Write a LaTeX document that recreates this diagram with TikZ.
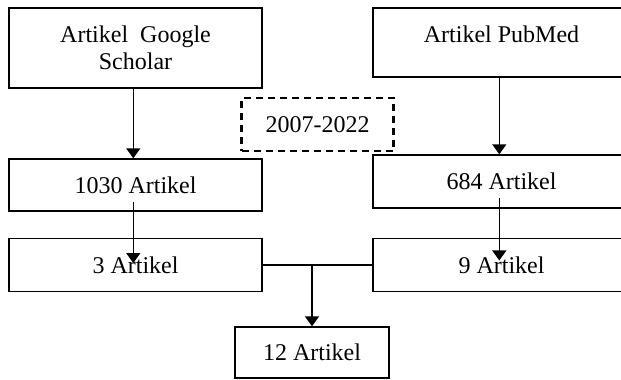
\documentclass[tikz,border=0pt]{standalone}
\usepackage{fontspec}
\setmainfont{Liberation Serif}
\usetikzlibrary{arrows.meta}

\begin{document}
\begin{tikzpicture}[x=0.5pt, y=-0.5pt, font=\fontsize{12}{13.5}\selectfont,
  box/.style={draw=black, line width=0.7pt, inner sep=0pt, align=center},
  yearbox/.style={draw=black, line width=1.1pt, dash pattern=on 3.5pt off 2.5pt, inner sep=0pt},
  arr/.style={line width=0.75pt, -{Triangle[width=7pt,length=5pt]}}]
\clip (0,0) rectangle (621,380);

\node[box, minimum width=126.5pt, minimum height=40pt](gs) at (135.5,48) {Artikel\ \ Google\\Scholar};
\node[box, minimum width=128.5pt, minimum height=34.5pt, text height=8pt, text depth=8pt](pm) at (501.5,42.5) {Artikel PubMed};

\node[yearbox, minimum width=76pt, minimum height=26.5pt](yr) at (317.5,124.5) {2007-2022};

\node[box, minimum width=126.5pt, minimum height=26pt](n1030) at (135.5,185) {1030 Artikel};
\node[box, minimum width=128.5pt, minimum height=26.5pt](n684) at (501.5,181.5) {684 Artikel};

\node[box, minimum width=126.5pt, minimum height=26.25pt](n3) at (135.5,265) {3 Artikel};
\node[box, minimum width=128.5pt, minimum height=26.25pt](n9) at (501.5,265) {9 Artikel};

\node[box, minimum width=77pt, minimum height=25.5pt](n12) at (312,352.5) {12 Artikel};

\draw[arr] ([xshift=-1.1pt]gs.south) -- ([xshift=-1.1pt]n1030.north);
\draw[arr] ([xshift=-1.1pt]pm.south) -- ([xshift=-1.1pt]n684.north);

\draw[arr] ([xshift=-1.1pt,yshift=5pt]n1030.south) -- ([xshift=-1.1pt,yshift=-12.5pt]n3.north);
\draw[arr] ([xshift=-1.1pt,yshift=5.2pt]n684.south) -- ([xshift=-1.1pt,yshift=-11.2pt]n9.north);

\draw[line width=0.7pt] (n3) -- (n9);
\draw[arr] (n3 -| n12) -- (n12);

\end{tikzpicture}
\end{document}
